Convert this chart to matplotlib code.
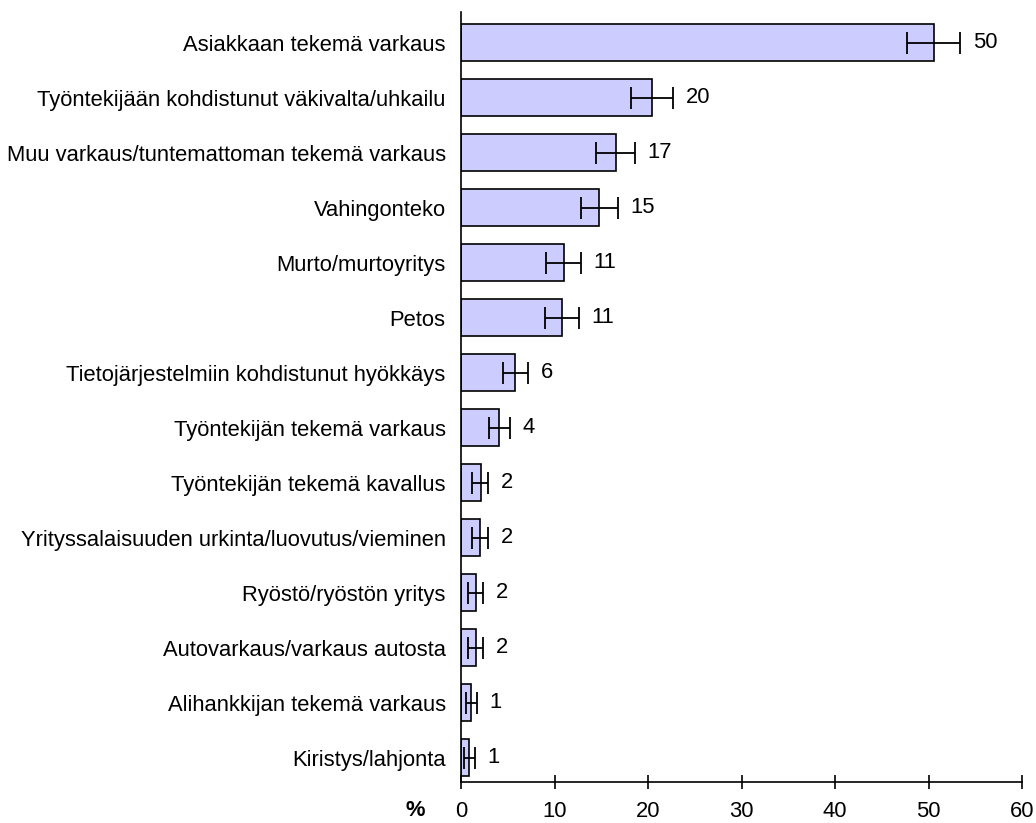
import numpy as np
import matplotlib.pyplot as plt

plt.rcParams['font.family'] = ['Liberation Sans', 'DejaVu Sans']

# categories, top to bottom
categories = [
    "Asiakkaan tekemä varkaus",
    "Työntekijään kohdistunut väkivalta/uhkailu",
    "Muu varkaus/tuntemattoman tekemä varkaus",
    "Vahingonteko",
    "Murto/murtoyritys",
    "Petos",
    "Tietojärjestelmiin kohdistunut hyökkäys",
    "Työntekijän tekemä varkaus",
    "Työntekijän tekemä kavallus",
    "Yrityssalaisuuden urkinta/luovutus/vieminen",
    "Ryöstö/ryöstön yritys",
    "Autovarkaus/varkaus autosta",
    "Alihankkijan tekemä varkaus",
    "Kiristys/lahjonta",
]
values = [50.6, 20.4, 16.6, 14.8, 11.0, 10.8, 5.8, 4.1, 2.1, 2.0, 1.6, 1.6, 1.1, 0.9]
err_low = [47.7, 18.2, 14.4, 12.8, 9.1, 9.0, 4.5, 3.0, 1.2, 1.2, 0.8, 0.8, 0.5, 0.3]
err_high = [53.4, 22.7, 18.6, 16.8, 12.8, 12.6, 7.2, 5.2, 2.9, 2.9, 2.4, 2.4, 1.7, 1.5]
labels = ["50", "20", "17", "15", "11", "11", "6", "4", "2", "2", "2", "2", "1", "1"]

vals = np.array(values)
xerr = np.array([vals - np.array(err_low), np.array(err_high) - vals])
y = np.arange(len(categories))
fs = 15.8

fig = plt.figure(figsize=(10.36, 8.23), dpi=100)
ax = fig.add_axes([0.445, 0.0498, 0.5415, 0.9356])

ax.barh(y, vals, height=0.67, color='#CCCCFF', edgecolor='black', linewidth=1.2,
        xerr=xerr, error_kw=dict(ecolor='black', elinewidth=1.3, capsize=8, capthick=1.3))

for yi, hi, lab in zip(y, err_high, labels):
    ax.annotate(lab, (hi, yi), xytext=(9, 0), textcoords='offset points',
                va='center', ha='left', fontsize=fs)

ax.set_ylim(len(categories) - 0.56, -0.56)
ax.set_xlim(0, 60)
ax.set_xticks(range(0, 61, 10))
ax.set_yticks(y)
ax.set_yticklabels(categories, fontsize=fs)
ax.tick_params(axis='y', length=0, pad=11)
ax.tick_params(axis='x', direction='inout', length=10, width=1.2, labelsize=fs, pad=9)

for s in ['top', 'right']:
    ax.spines[s].set_visible(False)
ax.spines['left'].set_linewidth(1.2)
ax.spines['bottom'].set_linewidth(1.2)

# "%" sits on the tick label row, left of the axis
ax.annotate('%', xy=(0, 0), xycoords='axes fraction', xytext=(-33, -13),
            textcoords='offset points', fontsize=fs, fontweight='bold',
            ha='center', va='top')

fig.savefig('out.png', dpi=100)
